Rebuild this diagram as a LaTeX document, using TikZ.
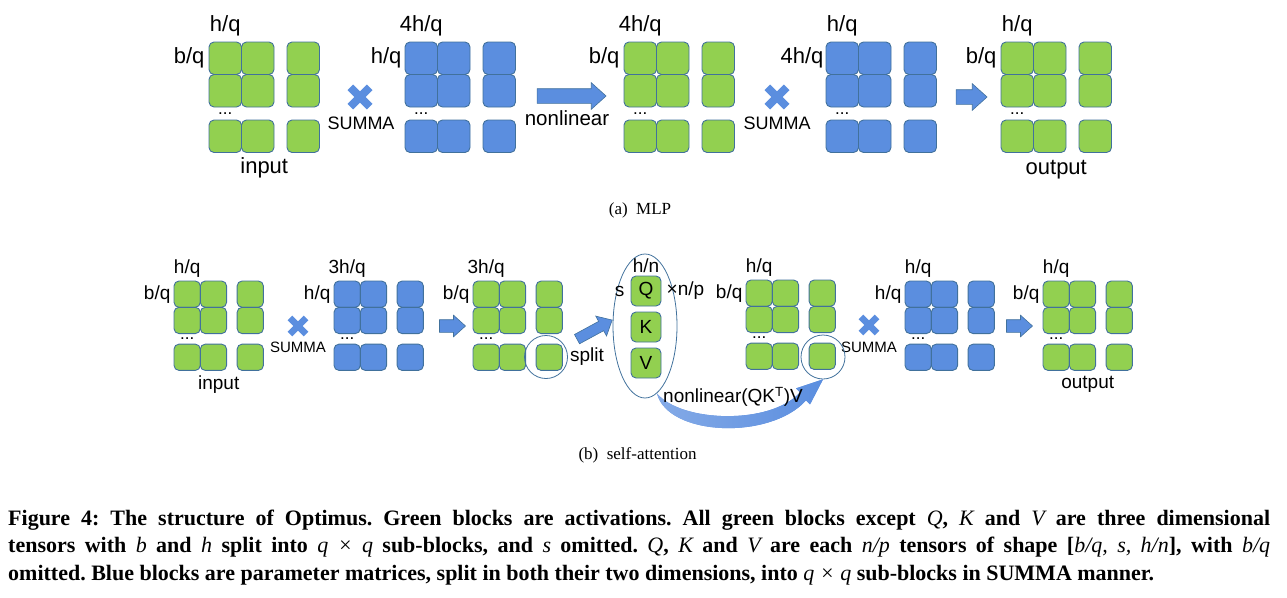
\documentclass[tikz,border=0pt]{standalone}
\usepackage{fontspec}
\setmainfont{Liberation Serif}
\setsansfont{Liberation Sans}
\usetikzlibrary{positioning, shapes.geometric, shapes.arrows}
\definecolor{grn}{RGB}{146,208,80}
\definecolor{blu}{RGB}{91,142,223}
\definecolor{outl}{RGB}{65,113,156}
\newcommand{\mi}[1]{{\mdseries\itshape #1}}

\begin{document}
\begin{tikzpicture}[
        x=1pt, y=-1pt,
        blk/.style={draw=outl, line width=0.9pt, rounded corners=5pt, inner sep=0pt},
        lbl/.style={font=\sffamily\fontsize{22}{24}\selectfont, inner sep=0pt},
        slbl/.style={font=\sffamily\fontsize{19}{21}\selectfont, inner sep=0pt},
        summa/.style={font=\sffamily\fontsize{18}{20}\selectfont, inner sep=0pt},
        ssumma/.style={font=\sffamily\fontsize{15}{17}\selectfont, inner sep=0pt},
        barrow/.style={single arrow, draw=outl, line width=0.6pt, fill=blu,
                       inner xsep=0pt, single arrow tip angle=84},
        selring/.style={draw=outl, line width=0.8pt, inner sep=0pt},
        subcap/.style={font=\fontsize{17}{19}\selectfont, inner sep=0pt},
        pics/mat/.style 2 args={code={
            \foreach \r/\yy in {1/0.5, 2/1.5, 3/2.9}
                \foreach \c/\xx in {1/0.5, 2/1.5, 3/2.9}
                    \node[blk, fill=#1, minimum size=#2pt] (-c\r\c) at (\xx*#2, \yy*#2) {};
            \node[font=\sffamily\fontsize{17}{17}\selectfont, inner sep=0pt, anchor=base]
                (-dots) at (0.5*#2, 2.22*#2) {...};
            \coordinate (-bot) at (1.7*#2, 3.4*#2);
        }},
        pics/mul/.style={code={
            \fill[blu, rotate=45] (-#1, -0.29*#1) rectangle (#1, 0.29*#1);
            \fill[blu, rotate=-45] (-#1, -0.29*#1) rectangle (#1, 0.29*#1);
        }},
    ]
        \useasboundingbox (0,0) rectangle (1287,597);

        % (a) MLP
        \pic (in) at (209,42) {mat={grn}{32.5}};
        \pic (w1) at (405,42) {mat={blu}{32.5}};
        \pic (mid) at (624,42) {mat={grn}{32.5}};
        \pic (w2) at (826,42) {mat={blu}{32.5}};
        \pic (out) at (1001,42) {mat={grn}{32.5}};

        \node[lbl, above=5pt of in-c11] (in-top) {h/q};
        \node[lbl, left=4pt of in-c11] (in-left) {b/q};
        \node[lbl, below=5pt of in-bot] (in-name) {input};
        \node[lbl, above=5pt of w1-c11] (w1-top) {4h/q};
        \node[lbl, left=3pt of w1-c11] (w1-left) {h/q};
        \node[lbl, above=5pt of mid-c11] (mid-top) {4h/q};
        \node[lbl, left=4pt of mid-c11] (mid-left) {b/q};
        \node[lbl, above=5pt of w2-c11] (w2-top) {h/q};
        \node[lbl, left=2pt of w2-c11] (w2-left) {4h/q};
        \node[lbl, above=5pt of out-c11] (out-top) {h/q};
        \node[lbl, left=4pt of out-c11] (out-left) {b/q};
        \node[lbl, below=8pt of out-bot] (out-name) {output};

        \pic at (360,97) {mul=13.7};
        \node[summa] (summa1) at (361,123) {SUMMA};
        \pic at (777,97) {mul=13.7};
        \node[summa] (summa2) at (777,123) {SUMMA};

        \node[barrow, minimum height=69pt, inner ysep=7pt,
              single arrow head extend=6pt] (nl-arr) at (567.5,96) {};
        \node[lbl, font=\sffamily\fontsize{20.5}{22}\selectfont] (nl-txt) at (567,118) {nonlinear};
        \node[barrow, minimum height=31pt, inner ysep=7pt,
              single arrow head extend=6pt] (out-arr) at (967.5,97) {};

        \node[subcap] (cap-a) at (640,210) {(a)\enspace MLP};

        % (b) self-attention
        \pic (a-in) at (174,281) {mat={grn}{26.3}};
        \pic (a-w1) at (334,281) {mat={blu}{26.3}};
        \pic (a-qkv) at (473,281) {mat={grn}{26.3}};
        \pic (a-att) at (746,280) {mat={grn}{26.3}};
        \pic (a-w2) at (905,281) {mat={blu}{26.3}};
        \pic (a-out) at (1043,281) {mat={grn}{26.3}};

        \node[slbl, above=3pt of a-in-c11] (a-in-top) {h/q};
        \node[slbl, left=3pt of a-in-c11] (a-in-left) {b/q};
        \node[slbl, below=5pt of a-in-bot] (a-in-name) {input};
        \node[slbl, above=3pt of a-w1-c11] (a-w1-top) {3h/q};
        \node[slbl, left=3pt of a-w1-c11] (a-w1-left) {h/q};
        \node[slbl, above=3pt of a-qkv-c11] (a-qkv-top) {3h/q};
        \node[slbl, left=3pt of a-qkv-c11] (a-qkv-left) {b/q};
        \node[slbl, above=3pt of a-att-c11] (a-att-top) {h/q};
        \node[slbl, left=3pt of a-att-c11] (a-att-left) {b/q};
        \node[slbl, above=3pt of a-w2-c11] (a-w2-top) {h/q};
        \node[slbl, left=3pt of a-w2-c11] (a-w2-left) {h/q};
        \node[slbl, above=3pt of a-out-c11] (a-out-top) {h/q};
        \node[slbl, left=3pt of a-out-c11] (a-out-left) {b/q};
        \node[slbl, below=6pt of a-out-bot] (a-out-name) {output};

        \pic at (298,326) {mul=11.4};
        \node[ssumma] (a-summa1) at (298,347) {SUMMA};
        \pic at (869,325) {mul=11.4};
        \node[ssumma] (a-summa2) at (869,347) {SUMMA};

        \node[barrow, minimum height=26pt, inner ysep=6pt,
              single arrow head extend=4.5pt] (a-arr1) at (449,326) {};
        \node[barrow, minimum height=26pt, inner ysep=6pt,
              single arrow head extend=4.5pt] (a-arr2) at (1016,326) {};

        % split into Q, K, V
        \node[selring, circle, minimum size=43pt] (qsel) at (546,357) {};
        \node[slbl] (split-txt) at (587,357) {split};
        \node[barrow, minimum height=40pt, inner ysep=5pt, rotate=28.5,
              single arrow head extend=6pt] (split-arr) at (592,331) {};
        \node[selring, ellipse, minimum width=64pt, minimum height=144pt] (qkvsel) at (645,326) {};
        \node[blk, fill=grn, minimum size=30pt, font=\sffamily\fontsize{19}{21}\selectfont] (q) at (646,291) {Q};
        \node[blk, fill=grn, minimum size=30pt, font=\sffamily\fontsize{19}{21}\selectfont] (k) at (646,327) {K};
        \node[blk, fill=grn, minimum size=30pt, font=\sffamily\fontsize{19}{21}\selectfont] (v) at (646,363) {V};
        \node[slbl, above=3pt of q] (q-top) {h/n};
        \node[slbl, left=6pt of q] (q-left) {s};
        \node[slbl, right=5pt of q] (q-right) {×n/p};

        \node[selring, circle, minimum size=44pt] (attsel) at (823,357) {};
        \fill[blu, shading=axis, left color=blu!75, right color=blu]
            (qkvsel.-80) .. controls +(11,43) and +(-36,40) .. ([shift={(-17,21)}]attsel.south)
            -- ++(4,4) -- (attsel.south) -- ([shift={(-27,9)}]attsel.south) -- ++(4,4)
            .. controls +(-30,33) and +(24,29) .. (qkvsel.-80) -- cycle;
        \node[slbl] (att-txt) at (733,397) {nonlinear(QK\textsuperscript{T})V};

        \node[subcap] (cap-b) at (637.5,455) {(b)\enspace self-attention};

        % caption
        \node[anchor=base west, inner sep=0pt] (fig-cap) at (8,525) {\parbox[t]{1262pt}{%
            \frenchspacing\bfseries\fontsize{22}{27.5}\selectfont
            Figure 4: The structure of Optimus. Green blocks are activations. All green blocks
            except \mi{Q}, \mi{K} and \mi{V} are three dimensional\linebreak
            tensors with \mi{b} and \mi{h} split into \mi{q} \mi{×} \mi{q} sub-blocks, and \mi{s}
            omitted. \mi{Q}, \mi{K} and \mi{V} are each \mi{n/p} tensors of shape
            [\mi{b/q, s, h/n}], with \mi{b/q}\linebreak
            omitted. Blue blocks are parameter matrices, split in both their two dimensions,
            into \mi{q} \mi{×} \mi{q} sub-blocks in SUMMA manner.}};
    \end{tikzpicture}
\end{document}
